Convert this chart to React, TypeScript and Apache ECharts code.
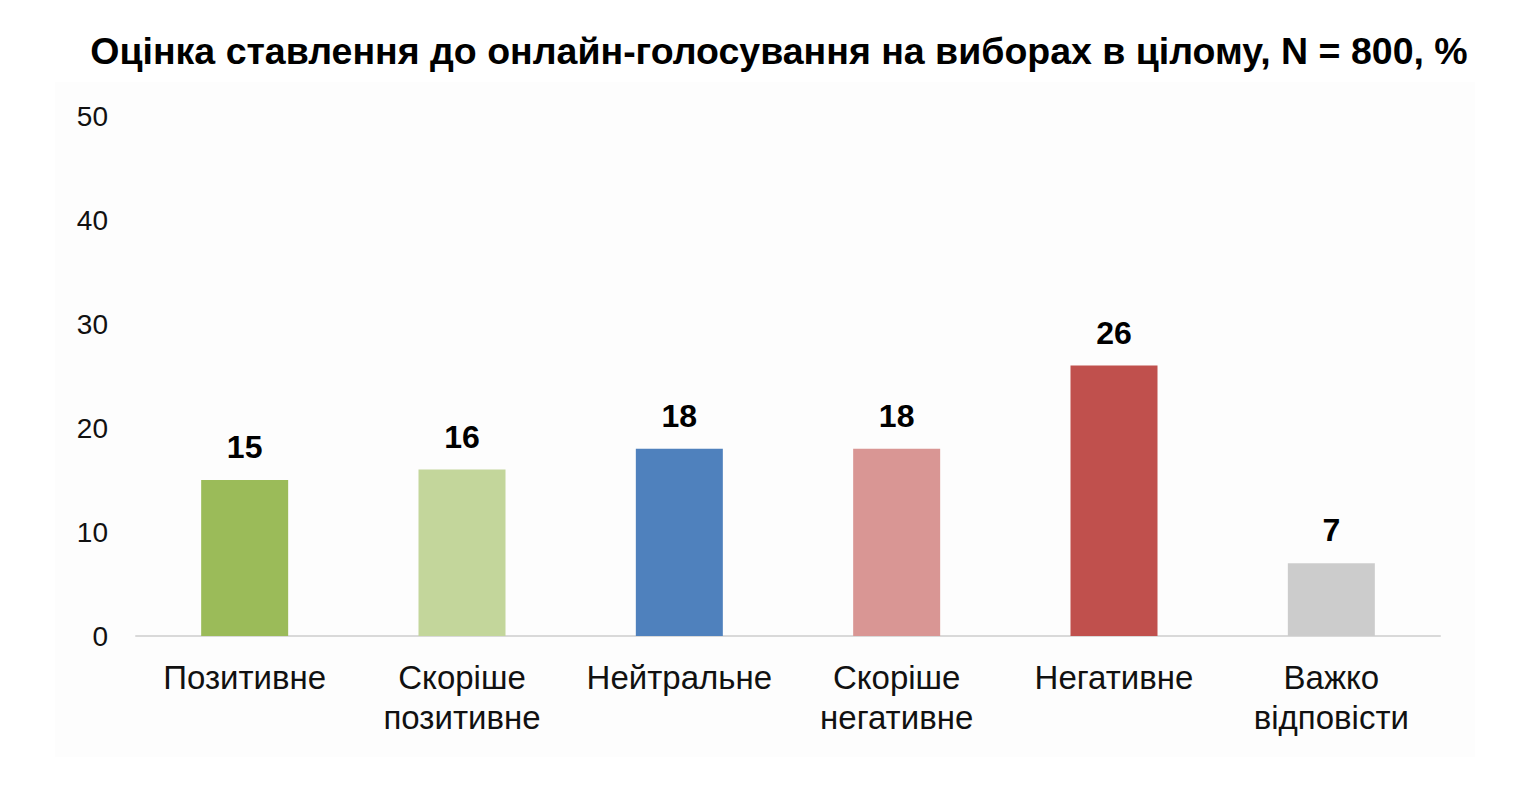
import * as echarts from "echarts";
import { useEffect, useRef } from "react";

const titleText = "Оцінка ставлення до онлайн-голосування на виборах в цілому, N = 800, %";
const categories = ["Позитивне", "Скоріше\nпозитивне", "Нейтральне", "Скоріше\nнегативне", "Негативне", "Важко\nвідповісти"];
const values = [15, 16, 18, 18, 26, 7];
const barColors = ["#9BBB59", "#C3D69B", "#4F81BD", "#D99694", "#C0504D", "#CCCCCC"];
const yTicks = { min: 0, max: 50, interval: 10 };

const FONT = "'Liberation Sans', Arial, sans-serif";

export default function App() {
	const chartRef = useRef<HTMLDivElement>(null);

	useEffect(() => {
		if (!chartRef.current) return;
		const chart = echarts.init(chartRef.current, undefined, { renderer: "svg" });

		chart.setOption({
			animation: false,
			backgroundColor: "#ffffff",
			textStyle: { fontFamily: FONT },
			title: {
				text: titleText,
				left: 779,
				top: 32,
				textAlign: "center",
				padding: 0,
				textStyle: { fontFamily: FONT, fontSize: 37.5, fontWeight: "bold", color: "#000000" }
			},
			graphic: [
				{
					type: "rect",
					z: -10,
					silent: true,
					shape: { x: 55, y: 82, width: 1420, height: 675 },
					style: { fill: "#fdfdfd" }
				}
			],
			grid: { left: 136, right: 80, top: 116, bottom: 154 },
			xAxis: {
				type: "category",
				data: categories,
				axisLine: { lineStyle: { color: "#d9d9d9", width: 2 } },
				axisTick: { show: false },
				axisLabel: {
					color: "#111111",
					fontFamily: FONT,
					fontSize: 33,
					lineHeight: 40,
					margin: 21,
					interval: 0
				}
			},
			yAxis: {
				type: "value",
				min: yTicks.min,
				max: yTicks.max,
				interval: yTicks.interval,
				axisLine: { show: false },
				axisTick: { show: false },
				splitLine: { show: false },
				axisLabel: { color: "#111111", fontFamily: FONT, fontSize: 28, margin: 28 }
			},
			series: [
				{
					type: "bar",
					barWidth: 87,
					data: values.map((v, i) => ({ value: v, itemStyle: { color: barColors[i] } })),
					label: {
						show: true,
						position: "top",
						distance: 17,
						color: "#000000",
						fontFamily: FONT,
						fontSize: 32,
						fontWeight: "bold"
					}
				}
			]
		});

		return () => chart.dispose();
	}, []);

	return <div ref={chartRef} style={{ position: "fixed", left: 0, top: 0, width: 1520, height: 790 }} />;
}
